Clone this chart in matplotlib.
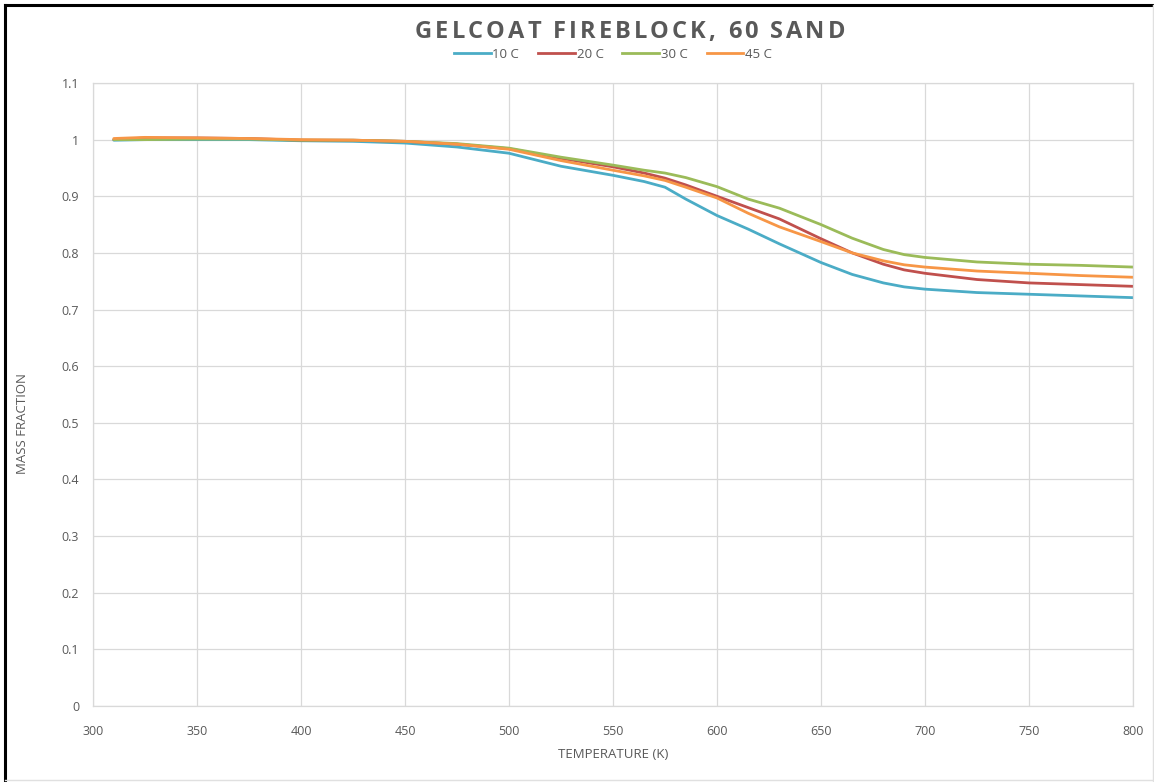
import matplotlib
matplotlib.use("Agg")
import matplotlib.pyplot as plt
from matplotlib.lines import Line2D
from matplotlib import font_manager, ft2font

temperature = [310, 325, 350, 375, 400, 425, 450, 475, 500, 525, 550, 565, 575, 585, 600,
               615, 630, 650, 665, 680, 690, 700, 725, 750, 775, 800]
mass_10c = [0.999, 1.000, 1.000, 1.000, 0.998, 0.997, 0.994, 0.987, 0.976, 0.953, 0.937,
            0.926, 0.916, 0.895, 0.866, 0.842, 0.816, 0.783, 0.762, 0.747, 0.740, 0.736,
            0.730, 0.727, 0.724, 0.721]
mass_20c = [1.000, 1.003, 1.003, 1.002, 0.999, 0.999, 0.997, 0.992, 0.984, 0.967, 0.952,
            0.941, 0.932, 0.920, 0.900, 0.880, 0.860, 0.825, 0.800, 0.780, 0.770, 0.764,
            0.753, 0.747, 0.744, 0.741]
mass_30c = [1.000, 1.000, 1.001, 1.001, 0.999, 0.999, 0.997, 0.993, 0.985, 0.969, 0.955,
            0.946, 0.941, 0.933, 0.917, 0.895, 0.879, 0.850, 0.826, 0.806, 0.797, 0.792,
            0.784, 0.780, 0.778, 0.775]
mass_45c = [1.002, 1.004, 1.003, 1.002, 1.000, 0.999, 0.997, 0.992, 0.983, 0.963, 0.946,
            0.936, 0.928, 0.916, 0.897, 0.870, 0.846, 0.820, 0.800, 0.786, 0.779, 0.775,
            0.768, 0.764, 0.760, 0.757]
series_labels = ["10 C", "20 C", "30 C", "45 C"]
series_colors = ["#4BACC6", "#C0504D", "#9BBB59", "#F79646"]
x_ticks = [300, 350, 400, 450, 500, 550, 600, 650, 700, 750, 800]
y_ticks = [0, 0.1, 0.2, 0.3, 0.4, 0.5, 0.6, 0.7, 0.8, 0.9, 1, 1.1]
y_tick_labels = ["0", "0.1", "0.2", "0.3", "0.4", "0.5", "0.6", "0.7", "0.8", "0.9", "1", "1.1"]
title_text = "GELCOAT FIREBLOCK, 60 SAND"
x_label = "TEMPERATURE (K)"
y_label = "MASS FRACTION"

plt.rcParams['font.family'] = ['Open Sans', 'DejaVu Sans']
text_gray = "#595959"
grid_gray = "#D9D9D9"
W, H = 1154, 782

fig = plt.figure(figsize=(W / 100, H / 100), dpi=100)
ax = fig.add_axes([93 / W, 76 / H, 1040 / W, 623 / H])

for ys, lab, col in zip([mass_10c, mass_20c, mass_30c, mass_45c], series_labels, series_colors):
    ax.plot(temperature, ys, color=col, lw=2.0, label=lab, solid_capstyle='round',
            solid_joinstyle='round')

ax.set_xlim(300, 800)
ax.set_ylim(0, 1.1)
ax.set_xticks(x_ticks)
ax.set_yticks(y_ticks)
ax.set_yticklabels(y_tick_labels)
ax.grid(True, color=grid_gray, lw=0.9)
ax.set_axisbelow(True)
for s in ax.spines.values():
    s.set_color(grid_gray)
    s.set_linewidth(0.9)
ax.tick_params(length=0, labelsize=9, labelcolor=text_gray)
ax.tick_params(axis='y', pad=10)
ax.tick_params(axis='x', pad=14)


def px(x, y):
    return x / W, 1 - y / H


fig.text(*px(613, 755), x_label, ha='center', va='center', fontsize=9.5, color=text_gray)
fig.text(*px(23, 424), y_label, ha='center', va='center', rotation=90, fontsize=9.5,
         color=text_gray)

# letter-spaced title
tsize = 17
fp = font_manager.FontProperties(family='Open Sans', weight='bold')
ftf = ft2font.FT2Font(font_manager.findfont(fp))
ftf.set_size(tsize, 100)
adv = [ftf.load_char(ord(c)).linearHoriAdvance / 65536.0 for c in title_text]
target_w = 430.0
track = (target_w - sum(adv)) / (len(title_text) - 1)
total = sum(adv) + track * (len(title_text) - 1)
xpos = 630 - total / 2
for c, a in zip(title_text, adv):
    if c != ' ':
        fig.text(*px(xpos, 38), c, ha='left', va='baseline', fontsize=tsize,
                 fontweight='bold', color=text_gray, family='Open Sans')
    xpos += a + track

handles = [Line2D([0], [0], color=c, lw=2.0) for c in series_colors]
fig.legend(handles, series_labels, loc='center', bbox_to_anchor=px(613, 54),
           ncol=4, frameon=False, fontsize=9.5, labelcolor=text_gray, handlelength=2.8,
           handletextpad=0.15, columnspacing=1.4)

# outer border
fig.add_artist(Line2D([5 / W, 5 / W], [0, 1 - 5 / H], color='black', lw=2.2, transform=fig.transFigure))
fig.add_artist(Line2D([5 / W, 1], [1 - 5 / H, 1 - 5 / H], color='black', lw=2.2, transform=fig.transFigure))
fig.add_artist(Line2D([1153 / W, 1153 / W], [0, 1 - 5 / H], color='#E0E0E0', lw=1, transform=fig.transFigure))
fig.add_artist(Line2D([5 / W, 1], [2 / H, 2 / H], color='#E0E0E0', lw=1, transform=fig.transFigure))

fig.savefig("out.png", dpi=100)
